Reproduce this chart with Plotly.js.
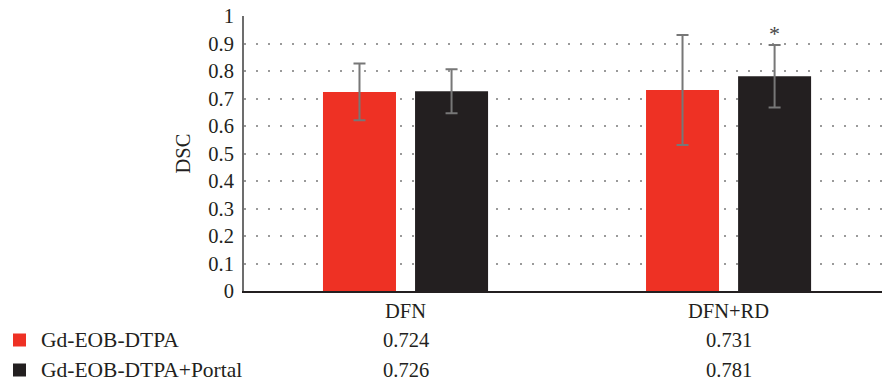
<!DOCTYPE html>
<html>
<head>
<meta charset="utf-8">
<script src="https://cdn.plot.ly/plotly-3.0.1.min.js"></script>
<style>
  html, body { margin: 0; padding: 0; background: #fff; }
  #chart { width: 883px; height: 383px; }
</style>
</head>
<body>
<div id="chart"></div>
<script>
// Dice similarity coefficient per method and contrast protocol
const categories = ['DFN', 'DFN+RD'];
const seriesNames = ['Gd-EOB-DTPA', 'Gd-EOB-DTPA+Portal'];
const eobValues = [0.724, 0.731];
const eobErrors = [0.103, 0.200];
const portalValues = [0.726, 0.781];
const portalErrors = [0.080, 0.114];
const yTickValues = [0, 0.1, 0.2, 0.3, 0.4, 0.5, 0.6, 0.7, 0.8, 0.9, 1];
const yTickLabels = ['0', '0.1', '0.2', '0.3', '0.4', '0.5', '0.6', '0.7', '0.8', '0.9', '1'];
const significantMark = { category: 'DFN+RD', series: 1, text: '*' };

const colors = ['#ee3124', '#231f20'];
const fontFamily = 'Liberation Serif';
const textColor = '#231f20';

const errStyle = (vals) => ({
  type: 'data', array: vals, visible: true,
  color: '#777777', thickness: 2, width: 6
});

const traces = [
  {
    type: 'bar', name: seriesNames[0], x: categories, y: eobValues,
    marker: { color: colors[0] }, error_y: errStyle(eobErrors),
    hoverinfo: 'none'
  },
  {
    type: 'bar', name: seriesNames[1], x: categories, y: portalValues,
    marker: { color: colors[1] }, error_y: errStyle(portalErrors),
    hoverinfo: 'none'
  }
];

// Table under the axis: one row per series with its mean values
const tableRows = [eobValues, portalValues];
const rowY = [-49, -79];   // px below the plot bottom
const annotations = [];
tableRows.forEach((vals, r) => {
  vals.forEach((v, c) => {
    annotations.push({
      xref: 'x', yref: 'paper', x: categories[c], y: 0,
      yshift: rowY[r], text: v.toFixed(3), showarrow: false,
      font: { family: fontFamily, size: 20.5, color: textColor },
      xanchor: 'center', yanchor: 'middle'
    });
  });
  annotations.push({
    xref: 'paper', yref: 'paper', x: 0, y: 0,
    xshift: -205, yshift: rowY[r], text: seriesNames[r], showarrow: false,
    font: { family: fontFamily, size: 21.5, color: textColor },
    xanchor: 'left', yanchor: 'middle'
  });
});

// Significance marker above the error bar
const sIdx = categories.indexOf(significantMark.category);
const sVals = significantMark.series === 1 ? portalValues : eobValues;
const sErr = significantMark.series === 1 ? portalErrors : eobErrors;
annotations.push({
  xref: 'x', yref: 'y', x: significantMark.category,
  y: sVals[sIdx] + sErr[sIdx], xshift: 46, yshift: -3,
  text: significantMark.text, showarrow: false,
  font: { family: fontFamily, size: 22, color: '#444' },
  xanchor: 'center', yanchor: 'bottom'
});

// Legend swatches beside each table row
const shapes = rowY.map((dy, r) => ({
  type: 'rect', xref: 'paper', yref: 'paper', layer: 'above',
  x0: -231 / 638, x1: -218 / 638,
  y0: (dy - 6.5) / 275, y1: (dy + 6.5) / 275,
  fillcolor: colors[r], line: { width: 0 }
}));

const layout = {
  width: 883, height: 383,
  margin: { l: 244, r: 1, t: 16, b: 92 },
  paper_bgcolor: '#ffffff', plot_bgcolor: '#ffffff',
  showlegend: false,
  barmode: 'group', bargap: 0.43, bargroupgap: 0.207,
  font: { family: fontFamily, color: textColor },
  xaxis: {
    type: 'category', range: [-0.5, 1.475],
    showline: true, linecolor: '#231f20', linewidth: 2,
    showgrid: false, zeroline: false, ticks: '',
    tickfont: { family: fontFamily, size: 20.5, color: textColor }
  },
  yaxis: {
    range: [0, 1], tickvals: yTickValues, ticktext: yTickLabels,
    showline: true, linecolor: '#6d6d6d', linewidth: 2,
    showgrid: true, gridcolor: '#9a9a9a', gridwidth: 2, griddash: '2px,10px',
    zeroline: false, ticks: '', ticklabelstandoff: 4,
    tickfont: { family: fontFamily, size: 20.5, color: textColor },
    title: { text: 'DSC', standoff: 12, font: { family: fontFamily, size: 20.5, color: textColor } }
  },
  annotations: annotations,
  shapes: shapes
};

Plotly.newPlot('chart', traces, layout, { staticPlot: true, displayModeBar: false });
</script>
</body>
</html>
